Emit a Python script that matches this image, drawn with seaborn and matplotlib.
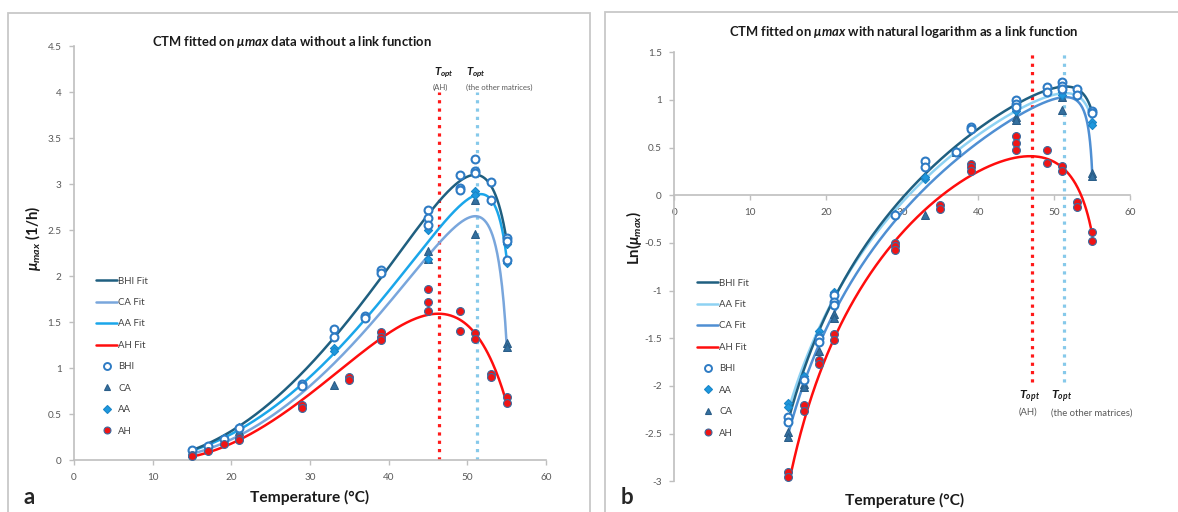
import numpy as np
import pandas as pd
import matplotlib
matplotlib.use("Agg")
import matplotlib.pyplot as plt
from matplotlib.lines import Line2D
from matplotlib.patches import Rectangle
import seaborn as sns

# ---------------- data (panel a: mu_max, 1/h) ----------------
bhi_T_a = [15, 17, 19, 21, 29, 29, 33, 33, 37, 37, 39, 39, 45, 45, 45, 49, 49, 49, 51, 51, 51, 53, 53, 55, 55, 55]
bhi_mu_a = [0.11, 0.15, 0.23, 0.35, 0.83, 0.80, 1.42, 1.34, 1.57, 1.54, 2.07, 2.03, 2.72, 2.63, 2.55,
            3.10, 2.96, 2.93, 3.27, 3.14, 3.12, 3.02, 2.83, 2.41, 2.38, 2.17]
aa_T_a = [15, 17, 19, 21, 29, 33, 33, 37, 39, 45, 45, 51, 51, 53, 55, 55]
aa_mu_a = [0.10, 0.15, 0.24, 0.36, 0.80, 1.22, 1.18, 1.57, 2.04, 2.50, 2.18, 2.92, 2.88, 2.81, 2.35, 2.14]
ca_T_a = [15, 17, 19, 21, 33, 37, 45, 45, 51, 51, 55, 55]
ca_mu_a = [0.08, 0.13, 0.21, 0.31, 0.82, 1.56, 2.27, 2.18, 2.83, 2.46, 1.27, 1.23]
ah_T_a = [15, 15, 17, 19, 21, 21, 29, 29, 35, 35, 39, 39, 39, 45, 45, 45, 49, 49, 51, 51, 53, 53, 55, 55]
ah_mu_a = [0.05, 0.04, 0.10, 0.17, 0.24, 0.22, 0.60, 0.56, 0.90, 0.87, 1.39, 1.34, 1.30, 1.86, 1.72, 1.62,
           1.62, 1.40, 1.38, 1.31, 0.93, 0.90, 0.68, 0.62]

# ---------------- data (panel b: ln(mu_max)) ----------------
bhi_T_b = [15, 15, 17, 19, 19, 21, 21, 21, 29, 33, 33, 37, 39, 39, 45, 45, 45, 49, 49, 51, 51, 51, 53, 53, 55, 55]
bhi_ln_b = [-2.33, -2.38, -1.94, -1.50, -1.54, -1.05, -1.12, -1.15, -0.21, 0.36, 0.30, 0.45, 0.72, 0.70,
            1.00, 0.96, 0.93, 1.14, 1.08, 1.19, 1.15, 1.12, 1.11, 1.05, 0.88, 0.86]
aa_T_b = [15, 15, 17, 19, 19, 21, 21, 29, 33, 33, 37, 45, 45, 51, 51, 53, 55, 55]
aa_ln_b = [-2.18, -2.22, -1.90, -1.42, -1.47, -1.01, -1.04, -0.20, 0.17, 0.19, 0.46, 0.91, 0.88,
           1.08, 1.05, 1.04, 0.77, 0.74]
ca_T_b = [15, 15, 17, 17, 19, 21, 21, 33, 37, 45, 45, 51, 51, 55, 55]
ca_ln_b = [-2.48, -2.54, -1.98, -2.01, -1.63, -1.24, -1.29, -0.21, 0.45, 0.82, 0.79, 1.03, 0.89, 0.23, 0.20]
ah_T_b = [15, 15, 17, 17, 19, 19, 21, 21, 29, 29, 29, 35, 35, 39, 39, 39, 45, 45, 45, 49, 49, 51, 51,
          53, 53, 55, 55]
ah_ln_b = [-2.90, -2.95, -2.20, -2.26, -1.73, -1.77, -1.45, -1.52, -0.50, -0.53, -0.57, -0.10, -0.14,
           0.33, 0.30, 0.26, 0.62, 0.55, 0.48, 0.48, 0.34, 0.31, 0.26, -0.07, -0.12, -0.38, -0.48]

# ---------------- CTM fit parameters ----------------
fit_names = ["BHI", "CA", "AA", "AH"]
tmin_a = [8.0, 9.0, 7.5, 11.0]
topt_a = [51.0, 51.0, 51.7, 46.3]
tmax_a = [57.0, 55.55, 56.3, 56.7]
muopt_a = [3.10, 2.65, 2.89, 1.59]

tmin_b = [8.3, 8.2, 7.5, 10.0]
topt_b = [51.5, 51.5, 51.5, 46.8]
tmax_b = [56.5, 55.38, 56.35, 56.85]
muopt_b = [3.13, 2.80, 2.92, 1.507]

topt_lines_a = [46.4, 51.25]
topt_lines_b = [47.0, 51.3]
x_ticks = [0, 10, 20, 30, 40, 50, 60]
y_ticks_a = [0, 0.5, 1, 1.5, 2, 2.5, 3, 3.5, 4, 4.5]
y_ticks_b = [-3, -2.5, -2, -1.5, -1, -0.5, 0, 0.5, 1, 1.5]


def ctmi(T, tmin, topt, tmax, mu):
    T = np.asarray(T, dtype=float)
    num = (T - tmax) * (T - tmin) ** 2
    den = (topt - tmin) * ((topt - tmin) * (T - topt) - (topt - tmax) * (topt + tmin - 2 * T))
    return mu * num / den


# ---------------- style ----------------
sns.set_style("white")
plt.rcParams["font.family"] = ["Lato", "DejaVu Sans"]
plt.rcParams["mathtext.fontset"] = "custom"
plt.rcParams["mathtext.rm"] = "Lato"
plt.rcParams["mathtext.it"] = "Lato:italic"
plt.rcParams["mathtext.bf"] = "Lato:bold"
plt.rcParams["mathtext.bfit"] = "Lato:italic:bold"

C_BHI_FIT = "#1f5f80"
C_CA_FIT_A = "#79a6dc"
C_AA_FIT_A = "#1aa6ea"
C_CA_FIT_B = "#4f8fd3"
C_AA_FIT_B = "#8ed2f3"
C_AH_FIT = "#ff0d0d"
C_BHI_PT = "#2e7bc4"
C_AA_PT = "#1e98de"
C_CA_PT = "#34709f"
C_AH_PT = "#f01414"
C_AH_EDGE = "#3a6ba0"
GRID_GRAY = "#bfbfbf"
TICK_GRAY = "#595959"

fig = plt.figure(figsize=(11.78, 5.12), dpi=100)

# panel frames
fig.patches.append(Rectangle((8 / 1178, -0.05), (590 - 8) / 1178, 1 - 12.5 / 512 + 0.05,
                             transform=fig.transFigure, fill=False, ec="#c8c8c8", lw=1.3))
fig.patches.append(Rectangle((605 / 1178, -0.05), (1180 - 605) / 1178, 1 - 11.5 / 512 + 0.05,
                             transform=fig.transFigure, fill=False, ec="#c8c8c8", lw=1.3))

axA = fig.add_axes([74.1 / 1178, 1 - 460 / 512, (546.1 - 74.1) / 1178, (460 - 46) / 512])
axB = fig.add_axes([674.4 / 1178, 1 - 481.3 / 512, (1130.3 - 674.4) / 1178, (481.3 - 52.3) / 512])

Tgrid = np.linspace(15, 55, 400)


def draw_fits(ax, tmins, topts, tmaxs, mus, colors, use_log, order):
    for i in order:
        vals = ctmi(Tgrid, tmins[i], topts[i], tmaxs[i], mus[i])
        if use_log:
            vals = np.log(vals)
        df = pd.DataFrame({"T": Tgrid, "v": vals})
        sns.lineplot(data=df, x="T", y="v", ax=ax, color=colors[i], lw=1.8,
                     estimator=None, sort=False, zorder=3 + (0.5 if i == 3 else 0))


def draw_points(ax, bT, bV, aT, aV, cT, cV, hT, hV):
    sns.scatterplot(x=cT, y=cV, ax=ax, marker="^", s=32, color=C_CA_PT, edgecolor="#2a5d88",
                    linewidth=0.8, zorder=5)
    sns.scatterplot(x=aT, y=aV, ax=ax, marker="D", s=17, color=C_AA_PT, edgecolor="#1a86c8",
                    linewidth=0.8, zorder=5)
    sns.scatterplot(x=bT, y=bV, ax=ax, marker="o", s=32, color="white", edgecolor=C_BHI_PT,
                    linewidth=1.5, zorder=6)
    sns.scatterplot(x=hT, y=hV, ax=ax, marker="o", s=32, color=C_AH_PT, edgecolor=C_AH_EDGE,
                    linewidth=0.8, zorder=6)


colors_a = [C_BHI_FIT, C_CA_FIT_A, C_AA_FIT_A, C_AH_FIT]
colors_b = [C_BHI_FIT, C_CA_FIT_B, C_AA_FIT_B, C_AH_FIT]

# ---------------- panel a ----------------
axA.vlines(topt_lines_a[0], 0, 4.0, colors="#ff1a1a", linestyles=(0, (1, 1.6)), lw=2.3, zorder=2)
axA.vlines(topt_lines_a[1], 0, 4.0, colors="#86c9ea", linestyles=(0, (1, 1.6)), lw=2.3, zorder=2)
draw_fits(axA, tmin_a, topt_a, tmax_a, muopt_a, colors_a, False, [1, 2, 0, 3])
draw_points(axA, bhi_T_a, bhi_mu_a, aa_T_a, aa_mu_a, ca_T_a, ca_mu_a, ah_T_a, ah_mu_a)
axA.set_xlim(0, 60)
axA.set_ylim(0, 4.5)

# ---------------- panel b ----------------
axB.vlines(topt_lines_b[0], -1.955, 1.5, colors="#ff1a1a", linestyles=(0, (1, 1.6)), lw=2.3, zorder=2)
axB.vlines(topt_lines_b[1], -1.955, 1.5, colors="#86c9ea", linestyles=(0, (1, 1.6)), lw=2.3, zorder=2)
draw_fits(axB, tmin_b, topt_b, tmax_b, muopt_b, colors_b, True, [1, 2, 0, 3])
draw_points(axB, bhi_T_b, bhi_ln_b, aa_T_b, aa_ln_b, ca_T_b, ca_ln_b, ah_T_b, ah_ln_b)
axB.set_xlim(0, 60)
axB.set_ylim(-3, 1.5)
axB.spines["bottom"].set_position(("data", 0))

fmt = matplotlib.ticker.FuncFormatter(lambda v, p: f"{v:g}")
for ax, yt in ((axA, y_ticks_a), (axB, y_ticks_b)):
    ax.set_xticks(x_ticks)
    ax.set_yticks(yt)
    ax.xaxis.set_major_formatter(fmt)
    ax.yaxis.set_major_formatter(fmt)
    for s in ("top", "right"):
        ax.spines[s].set_visible(False)
    for s in ("left", "bottom"):
        ax.spines[s].set_color(GRID_GRAY)
        ax.spines[s].set_linewidth(1.2)
    ax.tick_params(axis="both", which="major", direction="out", length=3.5, width=1,
                   color=GRID_GRAY, labelsize=7.2, labelcolor=TICK_GRAY, pad=5.5,
                   bottom=True, left=True)
    ax.set_xlabel("")
    ax.set_ylabel("")
    ax.set_facecolor("none")

# ---------------- texts ----------------
fig.text(292 / 1178, 1 - 41.7 / 512, r"CTM fitted on $\mathbfit{\mu max}$ data without a link function",
         ha="center", va="center", fontsize=9.4, fontweight="bold", color="#1a1a1a")
fig.text(904 / 1178, 1 - 31.7 / 512, r"CTM fitted on $\mathbfit{\mu max}$ with natural logarithm as a link function",
         ha="center", va="center", fontsize=9.4, fontweight="bold", color="#1a1a1a")

fig.text(310 / 1178, 1 - 497 / 512, "Temperature (°C)", ha="center", va="center",
         fontsize=11.2, fontweight="bold", color="#1a1a1a")
fig.text(905 / 1178, 1 - 500 / 512, "Temperature (°C)", ha="center", va="center",
         fontsize=11.2, fontweight="bold", color="#1a1a1a")

fig.text(33 / 1178, 1 - 238 / 512, r"$\mathbfit{\mu_{max}}$ (1/h)", ha="center", va="center",
         rotation=90, fontsize=10.8, fontweight="bold", color="#1a1a1a")
fig.text(634 / 1178, 1 - 238 / 512, r"Ln($\mathbfit{\mu_{max}}$)", ha="center", va="center",
         rotation=90, fontsize=10.8, fontweight="bold", color="#1a1a1a")

fig.text(29 / 1178, 1 - 497 / 512, "a", ha="center", va="center", fontsize=16, fontweight="bold")
fig.text(627 / 1178, 1 - 497 / 512, "b", ha="center", va="center", fontsize=16, fontweight="bold")

# Topt annotations, panel a
fig.text(433.5 / 1178, 1 - 73 / 512, r"$\mathbfit{T_{opt}}$", ha="left", va="center", fontsize=8.2, color="#1a1a1a")
fig.text(433 / 1178, 1 - 87 / 512, "(AH)", ha="left", va="center", fontsize=5.6, color=TICK_GRAY)
fig.text(466.5 / 1178, 1 - 73 / 512, r"$\mathbfit{T_{opt}}$", ha="left", va="center", fontsize=8.2, color="#1a1a1a")
fig.text(466 / 1178, 1 - 87 / 512, "(the other matrices)", ha="left", va="center", fontsize=5.6, color=TICK_GRAY)
# Topt annotations, panel b
fig.text(1019 / 1178, 1 - 397 / 512, r"$\mathbfit{T_{opt}}$", ha="left", va="center", fontsize=8.8, color="#1a1a1a")
fig.text(1019 / 1178, 1 - 412.5 / 512, "(AH)", ha="left", va="center", fontsize=6.8, color=TICK_GRAY)
fig.text(1051 / 1178, 1 - 397 / 512, r"$\mathbfit{T_{opt}}$", ha="left", va="center", fontsize=8.8, color="#1a1a1a")
fig.text(1051 / 1178, 1 - 413 / 512, "(the other matrices)", ha="left", va="center", fontsize=6.8, color=TICK_GRAY)


# ---------------- legends ----------------
def line_h(c):
    return Line2D([], [], color=c, lw=1.8)


def pt_h(m, fc, ec, ms, mew):
    return Line2D([], [], ls="none", marker=m, markerfacecolor=fc, markeredgecolor=ec,
                  markersize=ms, markeredgewidth=mew)


h_bhi = pt_h("o", "white", C_BHI_PT, 5, 1.4)
h_ca = pt_h("^", C_CA_PT, "#2a5d88", 5, 0.8)
h_aa = pt_h("D", C_AA_PT, "#1a86c8", 3.8, 0.8)
h_ah = pt_h("o", C_AH_PT, C_AH_EDGE, 5, 0.8)

legA = fig.legend([line_h(C_BHI_FIT), line_h(C_CA_FIT_A), line_h(C_AA_FIT_A), line_h(C_AH_FIT),
                   h_bhi, h_ca, h_aa, h_ah],
                  ["BHI Fit", "CA Fit", "AA Fit", "AH Fit", "BHI", "CA", "AA", "AH"],
                  loc="upper left", bbox_to_anchor=(96 / 1178, 1 - 276.5 / 512), frameon=False,
                  fontsize=6.9, handlelength=2.2, handletextpad=0.1, labelspacing=1.3,
                  borderpad=0, borderaxespad=0, labelcolor="#404040")
legB = fig.legend([line_h(C_BHI_FIT), line_h(C_AA_FIT_B), line_h(C_CA_FIT_B), line_h(C_AH_FIT),
                   h_bhi, h_aa, h_ca, h_ah],
                  ["BHI Fit", "AA Fit", "CA Fit", "AH Fit", "BHI", "AA", "CA", "AH"],
                  loc="upper left", bbox_to_anchor=(697 / 1178, 1 - 278.5 / 512), frameon=False,
                  fontsize=6.9, handlelength=2.2, handletextpad=0.1, labelspacing=1.3,
                  borderpad=0, borderaxespad=0, labelcolor="#404040")

fig.savefig("out.png", dpi=100)
